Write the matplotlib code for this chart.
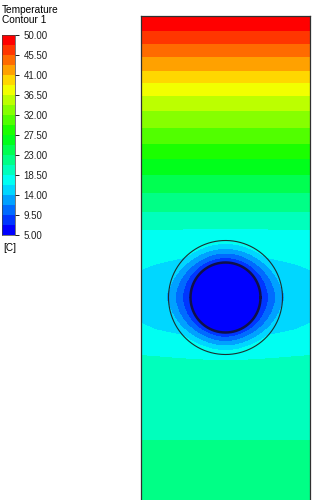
import numpy as np
import matplotlib
matplotlib.use("Agg")
import matplotlib.pyplot as plt
from matplotlib.colors import hsv_to_rgb, ListedColormap, BoundaryNorm

# ---- data ----
title_lines = ["Temperature", "Contour 1"]
unit_label = "[C]"
t_min, t_max, n_bands = 5.0, 50.0, 20
tick_values = [50.0, 45.5, 41.0, 36.5, 32.0, 27.5, 23.0, 18.5, 14.0, 9.5, 5.0]

# far-field temperature vs depth below the top wall (px-like units)
depth = [0.0, 15.0, 27.3, 41.0, 55.0, 76.0, 95.0, 111.3, 128.3, 144.3, 164.3,
         189.3, 214.3, 249.3, 281.3, 314.3, 334.3, 379.3, 424.3, 490.0]
t_far = [50.0, 47.75, 45.5, 43.25, 41.0, 37.0, 34.25, 32.0, 29.75, 27.2, 24.5,
         21.5, 18.5, 17.2, 16.9, 17.3, 18.5, 19.7, 20.75, 21.9]

# cylinder geometry and temperatures
domain_w, domain_h = 169.0, 492.0
cyl_x, cyl_y = 84.5, 281.8
r_inner, r_outer = 35.0, 57.0
t_core = 6.0
t_inner_edge = 6.6
cool_amp, cool_len, cool_band = 3.1, 40.0, 42.0

# ---- field ----
nx, ny = 680, 1970
x = np.linspace(0, domain_w, nx)
y = np.linspace(0, domain_h, ny)
X, Y = np.meshgrid(x, y)
Tf = np.interp(Y, depth, t_far)
dx, dy = X - cyl_x, Y - cyl_y
R = np.hypot(dx, dy)
Rs = np.maximum(R, 1e-9)
T_out = Tf - cool_amp * np.exp(-(dy / cool_band) ** 2) * np.exp(-np.maximum(R - r_outer, 0) / cool_len)
# value on the outer circle along the same ray
yb = cyl_y + dy / Rs * r_outer
Tb = np.interp(yb, depth, t_far) - cool_amp * np.exp(-((dy / Rs * r_outer) / cool_band) ** 2)
s = np.clip((R - r_inner) / (r_outer - r_inner), 0, 1)
T_ann = t_inner_edge + (Tb - t_inner_edge) * s ** 0.9
T = np.where(R >= r_outer, T_out, np.where(R >= r_inner, T_ann, t_core))

# ---- colours (Fluent-like banded rainbow) ----
hues = (1 - np.arange(n_bands) / (n_bands - 1)) * (2.0 / 3.0)
band_colors = hsv_to_rgb(np.stack([hues, np.ones(n_bands), np.ones(n_bands)], axis=1))
cmap = ListedColormap(band_colors)
levels = np.linspace(t_min, t_max, n_bands + 1)
norm = BoundaryNorm(levels, n_bands)

plt.rcParams['font.family'] = ['Liberation Sans', 'DejaVu Sans']
W, H = 323, 500
fig = plt.figure(figsize=(W / 100, H / 100), dpi=100)

# main domain
left, right, top, bottom = 141, 310, 15.7, 507.7
ax = fig.add_axes([left / W, 1 - bottom / H, (right - left) / W, (bottom - top) / H])
ax.contourf(X, Y, np.clip(T, t_min + 0.01, t_max - 0.01), levels=levels, colors=band_colors)
th = np.linspace(0, 2 * np.pi, 400)
ax.plot(cyl_x + r_outer * np.cos(th), cyl_y + r_outer * np.sin(th), color='#1a3030', lw=0.8)
ax.plot(cyl_x + r_inner * np.cos(th), cyl_y + r_inner * np.sin(th), color='#10104a', lw=1.8)
ax.set_xlim(0, domain_w)
ax.set_ylim(domain_h, 0)
ax.set_xticks([]); ax.set_yticks([])
for sp in ax.spines.values():
    sp.set_linewidth(0.9)
    sp.set_color('#303030')

# legend colour bar
cb_l, cb_r, cb_t, cb_b = 2, 15, 35, 235
cax = fig.add_axes([cb_l / W, 1 - cb_b / H, (cb_r - cb_l) / W, (cb_b - cb_t) / H])
cax.pcolormesh([0, 1], levels, np.array(levels[:-1] + np.diff(levels) / 2)[:, None],
               cmap=cmap, norm=norm)
cax.set_xlim(0, 1)
cax.set_ylim(t_min, t_max)
cax.set_xticks([])
cax.yaxis.tick_right()
cax.set_yticks(tick_values)
cax.set_yticklabels([f"{v:.2f}" for v in tick_values], fontsize=7)
cax.tick_params(axis='y', length=3, width=0.7, pad=3, colors='#202020')
for sp in cax.spines.values():
    sp.set_linewidth(0.5)
    sp.set_color('#404040')

fig.text(2 / W, 1 - 10 / H, title_lines[0], fontsize=7.3, va='center', ha='left')
fig.text(2 / W, 1 - 20 / H, title_lines[1], fontsize=7.3, va='center', ha='left')
fig.text(3 / W, 1 - 248 / H, unit_label, fontsize=7.2, va='center', ha='left')

fig.savefig("out.png", dpi=100, facecolor='white')
